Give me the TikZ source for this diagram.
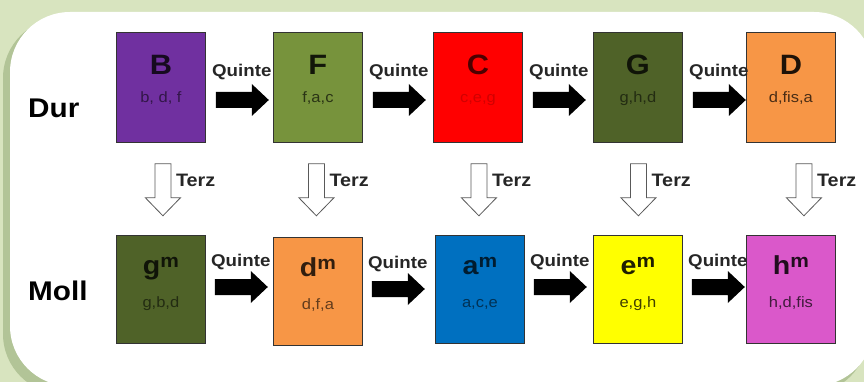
\documentclass[tikz,border=0pt]{standalone}
\usepackage{fontspec}
\setmainfont{Liberation Sans}[FakeStretch=1.1]
\usetikzlibrary{calc}
\definecolor{bggreen}{HTML}{D8E4BF}
\definecolor{shadowgreen}{HTML}{B2C497}
\definecolor{cB}{HTML}{7030A0}
\definecolor{cF}{HTML}{77933C}
\definecolor{cC}{HTML}{FF0000}
\definecolor{cG}{HTML}{4F6228}
\definecolor{cD}{HTML}{F79646}
\definecolor{cA}{HTML}{0070C0}
\definecolor{cE}{HTML}{FFFF00}
\definecolor{cH}{HTML}{DA58CA}
\newcommand\mollchord[1]{#1\raisebox{7pt}{\fontsize{19}{19}\selectfont m}}
\tikzset{
  chordbox/.style={draw=black!80, line width=0.8pt, minimum width=89pt, inner sep=0, anchor=north west},
  toprow/.style={chordbox, minimum height=110pt},
  botrow/.style={chordbox, minimum height=108pt},
  bigtop/.style={font=\fontsize{28}{28}\selectfont\bfseries, inner sep=0, anchor=base},
  bigbot/.style={font=\fontsize{26}{26}\selectfont\bfseries, inner sep=0, anchor=base},
  smalltxt/.style={font=\fontsize{15}{15}\selectfont, inner sep=0, anchor=base},
  rowlabel/.style={font=\fontsize{27}{27}\selectfont\bfseries, inner sep=0, anchor=base west},
  quintelabel/.style={font=\fontsize{17}{17}\selectfont\bfseries, text=black!85, inner sep=0, anchor=base},
  terzlabel/.style={font=\fontsize{18}{18}\selectfont\bfseries, text=black!85, inner sep=0, anchor=base west},
  quintearrow/.pic={\fill[black] (0,-8) -- (36,-8) -- (36,-16) -- (53,0) -- (36,16) -- (36,8) -- (0,8) -- cycle;},
  terzarrow/.pic={\draw[draw=black!65, fill=white, line width=0.8pt, line join=miter] (-8,0) -- (8,0) -- (8,34) -- (17.5,34) -- (0,52) -- (-17.5,34) -- (-8,34) -- cycle;}
}
\begin{document}
\begin{tikzpicture}[x=1pt, y=-1pt]
\useasboundingbox (0,0) rectangle (864,382);
\clip (0,0) rectangle (864,382);
% background
\fill[bggreen] (0,0) rectangle (864,382);
\fill[shadowgreen, rounded corners=60pt] (3,18) rectangle (868,394);
\fill[white, rounded corners=60pt] (10,12) rectangle (874,386);
% row labels
\node[rowlabel] (dur) at (28,118) {Dur};
\node[rowlabel] (moll) at (28,300) {Moll};
% major chords
\node[toprow, fill=cB] (B) at (116,32) {};
\node[toprow, fill=cF] (F) at (273,32) {};
\node[toprow, fill=cC] (C) at (433,32) {};
\node[toprow, fill=cG] (G) at (593,32) {};
\node[toprow, fill=cD] (D) at (746,32) {};
\node[bigtop, text=black!80!cB] (Bn) at ($(B.north)+(0,43)$) {B};
\node[smalltxt, text=black!55!cB] (Bt) at ($(B.north)+(0,71)$) {b, d, f};
\node[bigtop, text=black!85!cF] (Fn) at ($(F.north)+(0,43)$) {F};
\node[smalltxt, text=black!65!cF] (Ft) at ($(F.north)+(0,71)$) {f,a,c};
\node[bigtop, text=black!70!cC] (Cn) at ($(C.north)+(0,43)$) {C};
\node[smalltxt, text=black!18!cC] (Ct) at ($(C.north)+(0,71)$) {c,e,g};
\node[bigtop, text=black!80!cG] (Gn) at ($(G.north)+(0,43)$) {G};
\node[smalltxt, text=black!55!cG] (Gt) at ($(G.north)+(0,71)$) {g,h,d};
\node[bigtop, text=black!88!cD] (Dn) at ($(D.north)+(0,43)$) {D};
\node[smalltxt, text=black!70!cD] (Dt) at ($(D.north)+(0,71)$) {d,fis,a};
% minor chords
\node[botrow, fill=cG] (g) at (116,235) {};
\node[botrow, fill=cD] (d) at (273,237) {};
\node[botrow, fill=cA] (a) at (435,235) {};
\node[botrow, fill=cE] (e) at (593,235) {};
\node[botrow, fill=cH] (h) at (746,235) {};
\node[bigbot, text=black!80!cG] (gn) at ($(g.north)+(0,39)$) {\mollchord{g}};
\node[smalltxt, text=black!55!cG] (gt) at ($(g.north)+(0,72)$) {g,b,d};
\node[bigbot, text=black!80!cD] (dn) at ($(d.north)+(0,39)$) {\mollchord{d}};
\node[smalltxt, text=black!60!cD] (dt) at ($(d.north)+(0,72)$) {d,f,a};
\node[bigbot, text=black!75!cA] (an) at ($(a.north)+(0,39)$) {\mollchord{a}};
\node[smalltxt, text=black!55!cA] (at) at ($(a.north)+(0,72)$) {a,c,e};
\node[bigbot, text=black!88!cE] (en) at ($(e.north)+(0,39)$) {\mollchord{e}};
\node[smalltxt, text=black!75!cE] (et) at ($(e.north)+(0,72)$) {e,g,h};
\node[bigbot, text=black!85!cH] (hn) at ($(h.north)+(0,39)$) {\mollchord{h}};
\node[smalltxt, text=black!70!cH] (ht) at ($(h.north)+(0,72)$) {h,d,fis};
% Quinte arrows, top row
\foreach \p/\q in {B/F, F/C, C/G, G/D}{
  \pic at ($(\p.north east)+(10,68)$) {quintearrow};
  \node[quintelabel] at ($(\p.north east)+(36,45)$) {Quinte};
}
% Quinte arrows, bottom row
\foreach \p/\q in {g/d, d/a, a/e, e/h}{
  \pic at ($(\p.north east)+(9,52)$) {quintearrow};
  \node[quintelabel] at ($(\p.north east)+(35,31)$) {Quinte};
}
% Terz arrows
\foreach \p/\dx in {B/2, F/-1.5, C/1, G/0.5, D/13}{
  \pic at ($(\p.south)+(\dx,21)$) {terzarrow};
  \node[terzlabel] at ($(\p.south)+(\dx+13,44)$) {Terz};
}
\end{tikzpicture}
\end{document}
